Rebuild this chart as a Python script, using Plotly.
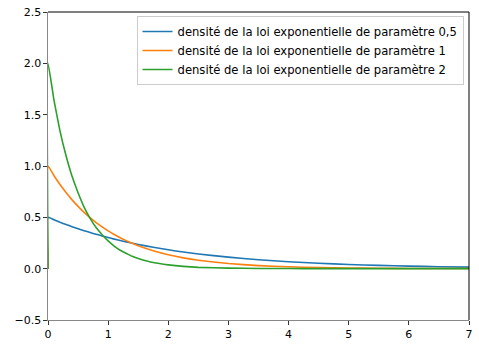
import plotly.graph_objects as go

x_vals = [0.0, 0.0, 0.1, 0.2, 0.3, 0.4, 0.5, 0.6, 0.7, 0.8, 0.9, 1.0, 1.1, 1.2, 1.3, 1.4,
          1.5, 1.75, 2.0, 2.25, 2.5, 3.0, 3.5, 4.0, 4.5, 5.0, 5.5, 6.0, 6.5, 7.0]

dens_05 = [0.0, 0.50, 0.476, 0.452, 0.430, 0.409, 0.389, 0.370, 0.352, 0.335, 0.319, 0.303,
           0.288, 0.274, 0.261, 0.248, 0.236, 0.208, 0.184, 0.162, 0.143, 0.112, 0.087,
           0.068, 0.053, 0.041, 0.032, 0.025, 0.019, 0.015]
dens_1 = [0.0, 1.00, 0.905, 0.819, 0.741, 0.670, 0.607, 0.549, 0.497, 0.449, 0.407, 0.368,
          0.333, 0.301, 0.273, 0.247, 0.223, 0.174, 0.135, 0.105, 0.082, 0.050, 0.030,
          0.018, 0.011, 0.007, 0.004, 0.002, 0.002, 0.001]
dens_2 = [0.0, 2.00, 1.64, 1.34, 1.10, 0.90, 0.74, 0.60, 0.49, 0.40, 0.33, 0.27,
          0.22, 0.18, 0.15, 0.12, 0.10, 0.06, 0.037, 0.022, 0.013, 0.005, 0.002,
          0.001, 0.0, 0.0, 0.0, 0.0, 0.0, 0.0]

names = ["densité de la loi exponentielle de paramètre 0,5",
         "densité de la loi exponentielle de paramètre 1",
         "densité de la loi exponentielle de paramètre 2"]
colors = ["#1f77b4", "#ff7f0e", "#2ca02c"]

x_ticks = [0, 1, 2, 3, 4, 5, 6, 7]
y_ticks = [-0.5, 0.0, 0.5, 1.0, 1.5, 2.0, 2.5]
y_tick_text = ["−0.5", "0.0", "0.5", "1.0", "1.5", "2.0", "2.5"]

fig = go.Figure()
for ys, nm, c in zip([dens_05, dens_1, dens_2], names, colors):
    fig.add_trace(go.Scatter(x=x_vals, y=ys, mode="lines", name=nm,
                             line=dict(color=c, width=1.6, shape="spline", smoothing=0.4)))

tick_font = dict(family="DejaVu Sans", size=11, color="#000000")
leg_font = dict(family="DejaVu Sans", size=11.6, color="#000000")
fig.update_layout(
    width=479, height=347,
    margin=dict(l=48, r=6, t=12, b=19),
    paper_bgcolor="white", plot_bgcolor="white",
    font=tick_font,
    showlegend=True,
    legend=dict(x=0.987, y=0.987, xanchor="right", yanchor="top",
                bgcolor="rgba(255,255,255,0.8)", bordercolor="#cccccc", borderwidth=1,
                font=leg_font, tracegroupgap=0),
    xaxis=dict(range=[0, 7], tickvals=x_ticks, ticks="outside", ticklen=3.5, tickwidth=1,
               tickcolor="#333333", showgrid=False, zeroline=False, showline=True,
               linecolor="#888888", linewidth=1.2, tickfont=tick_font),
    yaxis=dict(range=[-0.5, 2.5], tickvals=y_ticks, ticktext=y_tick_text, ticks="outside",
               ticklen=3.5, tickwidth=1, tickcolor="#333333", showgrid=False, zeroline=False,
               showline=True, linecolor="#888888", linewidth=1.2, tickfont=tick_font),
    shapes=[
        dict(type="line", xref="paper", yref="paper", x0=0, x1=1, y0=1, y1=1,
             line=dict(color="black", width=1)),
        dict(type="line", xref="paper", yref="paper", x0=1, x1=1, y0=0, y1=1,
             line=dict(color="black", width=1)),
    ],
)
fig.write_html("out.html")
